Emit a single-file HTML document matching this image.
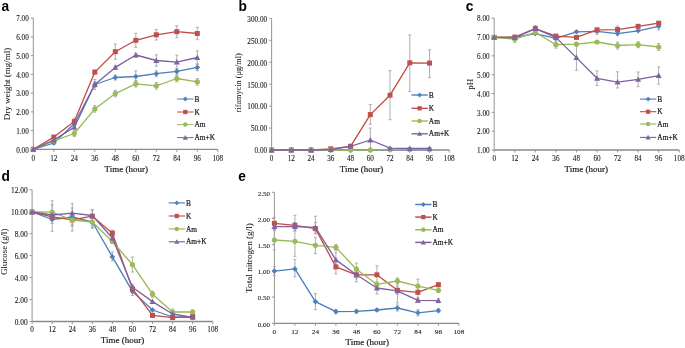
<!DOCTYPE html>
<html><head><meta charset="utf-8"><style>
html,body{margin:0;padding:0;background:#fff;}
body{width:685px;height:348px;overflow:hidden;font-family:"Liberation Serif",serif;}
svg{display:block;filter:blur(0.3px);}
</style></head><body>
<svg width="685" height="348" viewBox="0 0 685 348">
<rect width="685" height="348" fill="#fff"/>
<text transform="translate(1.5 10.6) scale(0.93 1)" font-size="14.8" font-weight="bold" font-family="Liberation Sans" fill="#000">a</text>
<path d="M33.3 18.1V149.4" stroke="#959595" stroke-width="1" fill="none"/>
<path d="M33.3 149.4H217.8" stroke="#8a8a8a" stroke-width="1.3" fill="none"/>
<path d="M30.8 149.4H33.3" stroke="#959595" stroke-width="1"/>
<text transform="translate(28.8 152.7) scale(1 1)" font-size="7.2" text-anchor="end" font-weight="normal" font-family="Liberation Serif" fill="#1a1a1a" stroke="#222" stroke-width="0.1">0.00</text>
<path d="M30.8 130.64H33.3" stroke="#959595" stroke-width="1"/>
<text transform="translate(28.8 133.94) scale(1 1)" font-size="7.2" text-anchor="end" font-weight="normal" font-family="Liberation Serif" fill="#1a1a1a" stroke="#222" stroke-width="0.1">1.00</text>
<path d="M30.8 111.89H33.3" stroke="#959595" stroke-width="1"/>
<text transform="translate(28.8 115.19) scale(1 1)" font-size="7.2" text-anchor="end" font-weight="normal" font-family="Liberation Serif" fill="#1a1a1a" stroke="#222" stroke-width="0.1">2.00</text>
<path d="M30.8 93.13H33.3" stroke="#959595" stroke-width="1"/>
<text transform="translate(28.8 96.43) scale(1 1)" font-size="7.2" text-anchor="end" font-weight="normal" font-family="Liberation Serif" fill="#1a1a1a" stroke="#222" stroke-width="0.1">3.00</text>
<path d="M30.8 74.37H33.3" stroke="#959595" stroke-width="1"/>
<text transform="translate(28.8 77.67) scale(1 1)" font-size="7.2" text-anchor="end" font-weight="normal" font-family="Liberation Serif" fill="#1a1a1a" stroke="#222" stroke-width="0.1">4.00</text>
<path d="M30.8 55.61H33.3" stroke="#959595" stroke-width="1"/>
<text transform="translate(28.8 58.91) scale(1 1)" font-size="7.2" text-anchor="end" font-weight="normal" font-family="Liberation Serif" fill="#1a1a1a" stroke="#222" stroke-width="0.1">5.00</text>
<path d="M30.8 36.86H33.3" stroke="#959595" stroke-width="1"/>
<text transform="translate(28.8 40.16) scale(1 1)" font-size="7.2" text-anchor="end" font-weight="normal" font-family="Liberation Serif" fill="#1a1a1a" stroke="#222" stroke-width="0.1">6.00</text>
<path d="M30.8 18.1H33.3" stroke="#959595" stroke-width="1"/>
<text transform="translate(28.8 21.4) scale(1 1)" font-size="7.2" text-anchor="end" font-weight="normal" font-family="Liberation Serif" fill="#1a1a1a" stroke="#222" stroke-width="0.1">7.00</text>
<path d="M33.3 149.4V151.9" stroke="#959595" stroke-width="1"/>
<text transform="translate(33.3 160.7) scale(1 1)" font-size="7.2" text-anchor="middle" font-weight="normal" font-family="Liberation Serif" fill="#1a1a1a" stroke="#222" stroke-width="0.1">0</text>
<path d="M53.8 149.4V151.9" stroke="#959595" stroke-width="1"/>
<text transform="translate(53.8 160.7) scale(1 1)" font-size="7.2" text-anchor="middle" font-weight="normal" font-family="Liberation Serif" fill="#1a1a1a" stroke="#222" stroke-width="0.1">12</text>
<path d="M74.3 149.4V151.9" stroke="#959595" stroke-width="1"/>
<text transform="translate(74.3 160.7) scale(1 1)" font-size="7.2" text-anchor="middle" font-weight="normal" font-family="Liberation Serif" fill="#1a1a1a" stroke="#222" stroke-width="0.1">24</text>
<path d="M94.8 149.4V151.9" stroke="#959595" stroke-width="1"/>
<text transform="translate(94.8 160.7) scale(1 1)" font-size="7.2" text-anchor="middle" font-weight="normal" font-family="Liberation Serif" fill="#1a1a1a" stroke="#222" stroke-width="0.1">36</text>
<path d="M115.3 149.4V151.9" stroke="#959595" stroke-width="1"/>
<text transform="translate(115.3 160.7) scale(1 1)" font-size="7.2" text-anchor="middle" font-weight="normal" font-family="Liberation Serif" fill="#1a1a1a" stroke="#222" stroke-width="0.1">48</text>
<path d="M135.8 149.4V151.9" stroke="#959595" stroke-width="1"/>
<text transform="translate(135.8 160.7) scale(1 1)" font-size="7.2" text-anchor="middle" font-weight="normal" font-family="Liberation Serif" fill="#1a1a1a" stroke="#222" stroke-width="0.1">60</text>
<path d="M156.3 149.4V151.9" stroke="#959595" stroke-width="1"/>
<text transform="translate(156.3 160.7) scale(1 1)" font-size="7.2" text-anchor="middle" font-weight="normal" font-family="Liberation Serif" fill="#1a1a1a" stroke="#222" stroke-width="0.1">72</text>
<path d="M176.8 149.4V151.9" stroke="#959595" stroke-width="1"/>
<text transform="translate(176.8 160.7) scale(1 1)" font-size="7.2" text-anchor="middle" font-weight="normal" font-family="Liberation Serif" fill="#1a1a1a" stroke="#222" stroke-width="0.1">84</text>
<path d="M197.3 149.4V151.9" stroke="#959595" stroke-width="1"/>
<text transform="translate(197.3 160.7) scale(1 1)" font-size="7.2" text-anchor="middle" font-weight="normal" font-family="Liberation Serif" fill="#1a1a1a" stroke="#222" stroke-width="0.1">96</text>
<path d="M217.8 149.4V151.9" stroke="#959595" stroke-width="1"/>
<text transform="translate(217.8 160.7) scale(1 1)" font-size="7.2" text-anchor="middle" font-weight="normal" font-family="Liberation Serif" fill="#1a1a1a" stroke="#222" stroke-width="0.1">108</text>
<text x="126.3" y="172.3" font-size="9" text-anchor="middle" font-weight="normal" font-family="Liberation Serif" fill="#1a1a1a" stroke="#1a1a1a" stroke-width="0.2">Time (hour)</text>
<text x="9.8" y="83.9" font-size="9" text-anchor="middle" font-weight="normal" font-family="Liberation Serif" fill="#1a1a1a" transform="rotate(-90 9.8 83.9)" stroke="#1a1a1a" stroke-width="0.05">Dry weight (mg/ml)</text>
<path d="M53.8 141.5V144.5 M52.3 141.5H55.3 M52.3 144.5H55.3" stroke="#a6a6a6" stroke-width="0.9" fill="none"/>
<path d="M74.3 121.8V125.8 M72.8 121.8H75.8 M72.8 125.8H75.8" stroke="#a6a6a6" stroke-width="0.9" fill="none"/>
<path d="M94.8 79.5V89.5 M93.3 79.5H96.3 M93.3 89.5H96.3" stroke="#a6a6a6" stroke-width="0.9" fill="none"/>
<path d="M115.3 75V80 M113.8 75H116.8 M113.8 80H116.8" stroke="#a6a6a6" stroke-width="0.9" fill="none"/>
<path d="M135.8 70.8V82.2 M134.3 70.8H137.3 M134.3 82.2H137.3" stroke="#a6a6a6" stroke-width="0.9" fill="none"/>
<path d="M156.3 70.7V76.7 M154.8 70.7H157.8 M154.8 76.7H157.8" stroke="#a6a6a6" stroke-width="0.9" fill="none"/>
<path d="M176.8 68.4V74.4 M175.3 68.4H178.3 M175.3 74.4H178.3" stroke="#a6a6a6" stroke-width="0.9" fill="none"/>
<path d="M197.3 64.1V70.7 M195.8 64.1H198.8 M195.8 70.7H198.8" stroke="#a6a6a6" stroke-width="0.9" fill="none"/>
<path d="M115.3 44.1V59.3 M113.8 44.1H116.8 M113.8 59.3H116.8" stroke="#a6a6a6" stroke-width="0.9" fill="none"/>
<path d="M135.8 33.3V47.3 M134.3 33.3H137.3 M134.3 47.3H137.3" stroke="#a6a6a6" stroke-width="0.9" fill="none"/>
<path d="M156.3 29.6V40 M154.8 29.6H157.8 M154.8 40H157.8" stroke="#a6a6a6" stroke-width="0.9" fill="none"/>
<path d="M176.8 25.7V37.7 M175.3 25.7H178.3 M175.3 37.7H178.3" stroke="#a6a6a6" stroke-width="0.9" fill="none"/>
<path d="M197.3 27.3V39.7 M195.8 27.3H198.8 M195.8 39.7H198.8" stroke="#a6a6a6" stroke-width="0.9" fill="none"/>
<path d="M74.3 118.1V125.1 M72.8 118.1H75.8 M72.8 125.1H75.8" stroke="#a6a6a6" stroke-width="0.9" fill="none"/>
<path d="M53.8 135.6V138.6 M52.3 135.6H55.3 M52.3 138.6H55.3" stroke="#a6a6a6" stroke-width="0.9" fill="none"/>
<path d="M94.8 70.1V74.1 M93.3 70.1H96.3 M93.3 74.1H96.3" stroke="#a6a6a6" stroke-width="0.9" fill="none"/>
<path d="M53.8 138.3V143.3 M52.3 138.3H55.3 M52.3 143.3H55.3" stroke="#a6a6a6" stroke-width="0.9" fill="none"/>
<path d="M74.3 130.5V136.5 M72.8 130.5H75.8 M72.8 136.5H75.8" stroke="#a6a6a6" stroke-width="0.9" fill="none"/>
<path d="M94.8 105.6V112.2 M93.3 105.6H96.3 M93.3 112.2H96.3" stroke="#a6a6a6" stroke-width="0.9" fill="none"/>
<path d="M115.3 90.4V96.8 M113.8 90.4H116.8 M113.8 96.8H116.8" stroke="#a6a6a6" stroke-width="0.9" fill="none"/>
<path d="M135.8 80.6V87 M134.3 80.6H137.3 M134.3 87H137.3" stroke="#a6a6a6" stroke-width="0.9" fill="none"/>
<path d="M156.3 82.5V89.1 M154.8 82.5H157.8 M154.8 89.1H157.8" stroke="#a6a6a6" stroke-width="0.9" fill="none"/>
<path d="M176.8 75.2V81.8 M175.3 75.2H178.3 M175.3 81.8H178.3" stroke="#a6a6a6" stroke-width="0.9" fill="none"/>
<path d="M197.3 78.5V85.1 M195.8 78.5H198.8 M195.8 85.1H198.8" stroke="#a6a6a6" stroke-width="0.9" fill="none"/>
<path d="M74.3 125.2V129.2 M72.8 125.2H75.8 M72.8 129.2H75.8" stroke="#a6a6a6" stroke-width="0.9" fill="none"/>
<path d="M94.8 81.5V87.5 M93.3 81.5H96.3 M93.3 87.5H96.3" stroke="#a6a6a6" stroke-width="0.9" fill="none"/>
<path d="M115.3 65.4V69.4 M113.8 65.4H116.8 M113.8 69.4H116.8" stroke="#a6a6a6" stroke-width="0.9" fill="none"/>
<path d="M135.8 53V57 M134.3 53H137.3 M134.3 57H137.3" stroke="#a6a6a6" stroke-width="0.9" fill="none"/>
<path d="M156.3 54.8V66.2 M154.8 54.8H157.8 M154.8 66.2H157.8" stroke="#a6a6a6" stroke-width="0.9" fill="none"/>
<path d="M176.8 55.1V69.1 M175.3 55.1H178.3 M175.3 69.1H178.3" stroke="#a6a6a6" stroke-width="0.9" fill="none"/>
<path d="M197.3 50.9V64.1 M195.8 50.9H198.8 M195.8 64.1H198.8" stroke="#a6a6a6" stroke-width="0.9" fill="none"/>
<path d="M33.3 149.3 L53.8 143 L74.3 123.8 L94.8 84.5 L115.3 77.5 L135.8 76.5 L156.3 73.7 L176.8 71.4 L197.3 67.4" stroke="#4a7ebb" stroke-width="1.3" fill="none" stroke-linejoin="round"/>
<path d="M33.3 146.5L36.1 149.3L33.3 152.1L30.5 149.3Z" fill="#4f81bd"/>
<path d="M53.8 140.2L56.6 143L53.8 145.8L51 143Z" fill="#4f81bd"/>
<path d="M74.3 121L77.1 123.8L74.3 126.6L71.5 123.8Z" fill="#4f81bd"/>
<path d="M94.8 81.7L97.6 84.5L94.8 87.3L92 84.5Z" fill="#4f81bd"/>
<path d="M115.3 74.7L118.1 77.5L115.3 80.3L112.5 77.5Z" fill="#4f81bd"/>
<path d="M135.8 73.7L138.6 76.5L135.8 79.3L133 76.5Z" fill="#4f81bd"/>
<path d="M156.3 70.9L159.1 73.7L156.3 76.5L153.5 73.7Z" fill="#4f81bd"/>
<path d="M176.8 68.6L179.6 71.4L176.8 74.2L174 71.4Z" fill="#4f81bd"/>
<path d="M197.3 64.6L200.1 67.4L197.3 70.2L194.5 67.4Z" fill="#4f81bd"/>
<path d="M33.3 149.3 L53.8 137.1 L74.3 121.6 L94.8 72.1 L115.3 51.7 L135.8 40.3 L156.3 34.8 L176.8 31.7 L197.3 33.5" stroke="#be4b48" stroke-width="1.3" fill="none" stroke-linejoin="round"/>
<rect x="30.8" y="146.8" width="5" height="5" fill="#c0504d"/>
<rect x="51.3" y="134.6" width="5" height="5" fill="#c0504d"/>
<rect x="71.8" y="119.1" width="5" height="5" fill="#c0504d"/>
<rect x="92.3" y="69.6" width="5" height="5" fill="#c0504d"/>
<rect x="112.8" y="49.2" width="5" height="5" fill="#c0504d"/>
<rect x="133.3" y="37.8" width="5" height="5" fill="#c0504d"/>
<rect x="153.8" y="32.3" width="5" height="5" fill="#c0504d"/>
<rect x="174.3" y="29.2" width="5" height="5" fill="#c0504d"/>
<rect x="194.8" y="31" width="5" height="5" fill="#c0504d"/>
<path d="M33.3 149.3 L53.8 140.8 L74.3 133.5 L94.8 108.9 L115.3 93.6 L135.8 83.8 L156.3 85.8 L176.8 78.5 L197.3 81.8" stroke="#98b954" stroke-width="1.3" fill="none" stroke-linejoin="round"/>
<circle cx="33.3" cy="149.3" r="2.62" fill="#9bbb59"/>
<circle cx="53.8" cy="140.8" r="2.62" fill="#9bbb59"/>
<circle cx="74.3" cy="133.5" r="2.62" fill="#9bbb59"/>
<circle cx="94.8" cy="108.9" r="2.62" fill="#9bbb59"/>
<circle cx="115.3" cy="93.6" r="2.62" fill="#9bbb59"/>
<circle cx="135.8" cy="83.8" r="2.62" fill="#9bbb59"/>
<circle cx="156.3" cy="85.8" r="2.62" fill="#9bbb59"/>
<circle cx="176.8" cy="78.5" r="2.62" fill="#9bbb59"/>
<circle cx="197.3" cy="81.8" r="2.62" fill="#9bbb59"/>
<path d="M33.3 149.3 L53.8 140 L74.3 127.2 L94.8 84.5 L115.3 67.4 L135.8 55 L156.3 60.5 L176.8 62.1 L197.3 57.5" stroke="#7d60a0" stroke-width="1.3" fill="none" stroke-linejoin="round"/>
<path d="M33.3 146.3L36.3 151.7L30.3 151.7Z" fill="#8064a2"/>
<path d="M53.8 137L56.8 142.4L50.8 142.4Z" fill="#8064a2"/>
<path d="M74.3 124.2L77.3 129.6L71.3 129.6Z" fill="#8064a2"/>
<path d="M94.8 81.5L97.8 86.9L91.8 86.9Z" fill="#8064a2"/>
<path d="M115.3 64.4L118.3 69.8L112.3 69.8Z" fill="#8064a2"/>
<path d="M135.8 52L138.8 57.4L132.8 57.4Z" fill="#8064a2"/>
<path d="M156.3 57.5L159.3 62.9L153.3 62.9Z" fill="#8064a2"/>
<path d="M176.8 59.1L179.8 64.5L173.8 64.5Z" fill="#8064a2"/>
<path d="M197.3 54.5L200.3 59.9L194.3 59.9Z" fill="#8064a2"/>
<path d="M177.2 99H193.5" stroke="#4a7ebb" stroke-width="1.0"/>
<path d="M185.3 96.62L187.68 99L185.3 101.38L182.92 99Z" fill="#4f81bd"/>
<text x="194.5" y="101.6" font-size="7.4" text-anchor="start" font-weight="normal" font-family="Liberation Serif" fill="#1a1a1a" stroke="#1a1a1a" stroke-width="0.2">B</text>
<path d="M177.2 112H193.5" stroke="#be4b48" stroke-width="1.0"/>
<rect x="183.17" y="109.88" width="4.25" height="4.25" fill="#c0504d"/>
<text x="194.5" y="114.6" font-size="7.4" text-anchor="start" font-weight="normal" font-family="Liberation Serif" fill="#1a1a1a" stroke="#1a1a1a" stroke-width="0.2">K</text>
<path d="M177.2 124.6H193.5" stroke="#98b954" stroke-width="1.0"/>
<circle cx="185.3" cy="124.6" r="2.23" fill="#9bbb59"/>
<text x="194.5" y="127.2" font-size="7.4" text-anchor="start" font-weight="normal" font-family="Liberation Serif" fill="#1a1a1a" stroke="#1a1a1a" stroke-width="0.2">Am</text>
<path d="M177.2 137.6H193.5" stroke="#7d60a0" stroke-width="1.0"/>
<path d="M185.3 135.05L187.85 139.64L182.75 139.64Z" fill="#8064a2"/>
<text x="194.5" y="140.2" font-size="7.4" text-anchor="start" font-weight="normal" font-family="Liberation Serif" fill="#1a1a1a" stroke="#1a1a1a" stroke-width="0.2">Am+K</text>
<text transform="translate(238.6 10.6) scale(0.93 1)" font-size="14.8" font-weight="bold" font-family="Liberation Sans" fill="#000">b</text>
<path d="M271.6 18.4V150" stroke="#959595" stroke-width="1" fill="none"/>
<path d="M271.6 150H449.26" stroke="#8a8a8a" stroke-width="1.3" fill="none"/>
<path d="M269.1 150H271.6" stroke="#959595" stroke-width="1"/>
<text transform="translate(267.1 153.3) scale(1 1)" font-size="7.2" text-anchor="end" font-weight="normal" font-family="Liberation Serif" fill="#1a1a1a" stroke="#222" stroke-width="0.1">0.00</text>
<path d="M269.1 128.07H271.6" stroke="#959595" stroke-width="1"/>
<text transform="translate(267.1 131.37) scale(1 1)" font-size="7.2" text-anchor="end" font-weight="normal" font-family="Liberation Serif" fill="#1a1a1a" stroke="#222" stroke-width="0.1">50.00</text>
<path d="M269.1 106.13H271.6" stroke="#959595" stroke-width="1"/>
<text transform="translate(267.1 109.43) scale(1 1)" font-size="7.2" text-anchor="end" font-weight="normal" font-family="Liberation Serif" fill="#1a1a1a" stroke="#222" stroke-width="0.1">100.00</text>
<path d="M269.1 84.2H271.6" stroke="#959595" stroke-width="1"/>
<text transform="translate(267.1 87.5) scale(1 1)" font-size="7.2" text-anchor="end" font-weight="normal" font-family="Liberation Serif" fill="#1a1a1a" stroke="#222" stroke-width="0.1">150.00</text>
<path d="M269.1 62.27H271.6" stroke="#959595" stroke-width="1"/>
<text transform="translate(267.1 65.57) scale(1 1)" font-size="7.2" text-anchor="end" font-weight="normal" font-family="Liberation Serif" fill="#1a1a1a" stroke="#222" stroke-width="0.1">200.00</text>
<path d="M269.1 40.33H271.6" stroke="#959595" stroke-width="1"/>
<text transform="translate(267.1 43.63) scale(1 1)" font-size="7.2" text-anchor="end" font-weight="normal" font-family="Liberation Serif" fill="#1a1a1a" stroke="#222" stroke-width="0.1">250.00</text>
<path d="M269.1 18.4H271.6" stroke="#959595" stroke-width="1"/>
<text transform="translate(267.1 21.7) scale(1 1)" font-size="7.2" text-anchor="end" font-weight="normal" font-family="Liberation Serif" fill="#1a1a1a" stroke="#222" stroke-width="0.1">300.00</text>
<path d="M271.6 150V152.5" stroke="#959595" stroke-width="1"/>
<text transform="translate(271.6 160.9) scale(1 1)" font-size="7.2" text-anchor="middle" font-weight="normal" font-family="Liberation Serif" fill="#1a1a1a" stroke="#222" stroke-width="0.1">0</text>
<path d="M291.34 150V152.5" stroke="#959595" stroke-width="1"/>
<text transform="translate(291.34 160.9) scale(1 1)" font-size="7.2" text-anchor="middle" font-weight="normal" font-family="Liberation Serif" fill="#1a1a1a" stroke="#222" stroke-width="0.1">12</text>
<path d="M311.08 150V152.5" stroke="#959595" stroke-width="1"/>
<text transform="translate(311.08 160.9) scale(1 1)" font-size="7.2" text-anchor="middle" font-weight="normal" font-family="Liberation Serif" fill="#1a1a1a" stroke="#222" stroke-width="0.1">24</text>
<path d="M330.82 150V152.5" stroke="#959595" stroke-width="1"/>
<text transform="translate(330.82 160.9) scale(1 1)" font-size="7.2" text-anchor="middle" font-weight="normal" font-family="Liberation Serif" fill="#1a1a1a" stroke="#222" stroke-width="0.1">36</text>
<path d="M350.56 150V152.5" stroke="#959595" stroke-width="1"/>
<text transform="translate(350.56 160.9) scale(1 1)" font-size="7.2" text-anchor="middle" font-weight="normal" font-family="Liberation Serif" fill="#1a1a1a" stroke="#222" stroke-width="0.1">48</text>
<path d="M370.3 150V152.5" stroke="#959595" stroke-width="1"/>
<text transform="translate(370.3 160.9) scale(1 1)" font-size="7.2" text-anchor="middle" font-weight="normal" font-family="Liberation Serif" fill="#1a1a1a" stroke="#222" stroke-width="0.1">60</text>
<path d="M390.04 150V152.5" stroke="#959595" stroke-width="1"/>
<text transform="translate(390.04 160.9) scale(1 1)" font-size="7.2" text-anchor="middle" font-weight="normal" font-family="Liberation Serif" fill="#1a1a1a" stroke="#222" stroke-width="0.1">72</text>
<path d="M409.78 150V152.5" stroke="#959595" stroke-width="1"/>
<text transform="translate(409.78 160.9) scale(1 1)" font-size="7.2" text-anchor="middle" font-weight="normal" font-family="Liberation Serif" fill="#1a1a1a" stroke="#222" stroke-width="0.1">84</text>
<path d="M429.52 150V152.5" stroke="#959595" stroke-width="1"/>
<text transform="translate(429.52 160.9) scale(1 1)" font-size="7.2" text-anchor="middle" font-weight="normal" font-family="Liberation Serif" fill="#1a1a1a" stroke="#222" stroke-width="0.1">96</text>
<path d="M449.26 150V152.5" stroke="#959595" stroke-width="1"/>
<text transform="translate(449.26 160.9) scale(1 1)" font-size="7.2" text-anchor="middle" font-weight="normal" font-family="Liberation Serif" fill="#1a1a1a" stroke="#222" stroke-width="0.1">108</text>
<text x="361.5" y="172.3" font-size="9" text-anchor="middle" font-weight="normal" font-family="Liberation Serif" fill="#1a1a1a" stroke="#1a1a1a" stroke-width="0.2">Time (hour)</text>
<text x="241.3" y="82.8" font-size="8.25" text-anchor="middle" font-weight="normal" font-family="Liberation Serif" fill="#1a1a1a" transform="rotate(-90 241.3 82.8)" stroke="#1a1a1a" stroke-width="0.05">rifamycin (μg/ml)</text>
<path d="M370.3 104.5V124.2 M368.8 104.5H371.8 M368.8 124.2H371.8" stroke="#a6a6a6" stroke-width="0.9" fill="none"/>
<path d="M390.04 70.7V119.7 M388.54 70.7H391.54 M388.54 119.7H391.54" stroke="#a6a6a6" stroke-width="0.9" fill="none"/>
<path d="M409.78 35V91.4 M408.28 35H411.28 M408.28 91.4H411.28" stroke="#a6a6a6" stroke-width="0.9" fill="none"/>
<path d="M429.52 49.7V77.7 M428.02 49.7H431.02 M428.02 77.7H431.02" stroke="#a6a6a6" stroke-width="0.9" fill="none"/>
<path d="M370.3 128.1V150 M368.8 128.1H371.8 M368.8 150H371.8" stroke="#a6a6a6" stroke-width="0.9" fill="none"/>
<path d="M271.6 150 L291.34 150 L311.08 150 L330.82 150 L350.56 150 L370.3 150 L390.04 149.6 L409.78 149.6 L429.52 149.6" stroke="#4a7ebb" stroke-width="1.3" fill="none" stroke-linejoin="round"/>
<path d="M271.6 147.2L274.4 150L271.6 152.8L268.8 150Z" fill="#4f81bd"/>
<path d="M291.34 147.2L294.14 150L291.34 152.8L288.54 150Z" fill="#4f81bd"/>
<path d="M311.08 147.2L313.88 150L311.08 152.8L308.28 150Z" fill="#4f81bd"/>
<path d="M330.82 147.2L333.62 150L330.82 152.8L328.02 150Z" fill="#4f81bd"/>
<path d="M350.56 147.2L353.36 150L350.56 152.8L347.76 150Z" fill="#4f81bd"/>
<path d="M370.3 147.2L373.1 150L370.3 152.8L367.5 150Z" fill="#4f81bd"/>
<path d="M390.04 146.8L392.84 149.6L390.04 152.4L387.24 149.6Z" fill="#4f81bd"/>
<path d="M409.78 146.8L412.58 149.6L409.78 152.4L406.98 149.6Z" fill="#4f81bd"/>
<path d="M429.52 146.8L432.32 149.6L429.52 152.4L426.72 149.6Z" fill="#4f81bd"/>
<path d="M271.6 150 L291.34 150 L311.08 150 L330.82 148.8 L350.56 146.3 L370.3 114.6 L390.04 95.2 L409.78 62.8 L429.52 63.1" stroke="#be4b48" stroke-width="1.3" fill="none" stroke-linejoin="round"/>
<rect x="269.1" y="147.5" width="5" height="5" fill="#c0504d"/>
<rect x="288.84" y="147.5" width="5" height="5" fill="#c0504d"/>
<rect x="308.58" y="147.5" width="5" height="5" fill="#c0504d"/>
<rect x="328.32" y="146.3" width="5" height="5" fill="#c0504d"/>
<rect x="348.06" y="143.8" width="5" height="5" fill="#c0504d"/>
<rect x="367.8" y="112.1" width="5" height="5" fill="#c0504d"/>
<rect x="387.54" y="92.7" width="5" height="5" fill="#c0504d"/>
<rect x="407.28" y="60.3" width="5" height="5" fill="#c0504d"/>
<rect x="427.02" y="60.6" width="5" height="5" fill="#c0504d"/>
<path d="M271.6 150 L291.34 150 L311.08 150 L330.82 150 L350.56 150 L370.3 150 L390.04 149.4 L409.78 149.4 L429.52 149.4" stroke="#98b954" stroke-width="1.3" fill="none" stroke-linejoin="round"/>
<circle cx="271.6" cy="150" r="2.62" fill="#9bbb59"/>
<circle cx="291.34" cy="150" r="2.62" fill="#9bbb59"/>
<circle cx="311.08" cy="150" r="2.62" fill="#9bbb59"/>
<circle cx="330.82" cy="150" r="2.62" fill="#9bbb59"/>
<circle cx="350.56" cy="150" r="2.62" fill="#9bbb59"/>
<circle cx="370.3" cy="150" r="2.62" fill="#9bbb59"/>
<circle cx="390.04" cy="149.4" r="2.62" fill="#9bbb59"/>
<circle cx="409.78" cy="149.4" r="2.62" fill="#9bbb59"/>
<circle cx="429.52" cy="149.4" r="2.62" fill="#9bbb59"/>
<path d="M271.6 150 L291.34 150 L311.08 150 L330.82 149.6 L350.56 146.3 L370.3 140 L390.04 148.2 L409.78 148.5 L429.52 148.5" stroke="#7d60a0" stroke-width="1.3" fill="none" stroke-linejoin="round"/>
<path d="M271.6 147L274.6 152.4L268.6 152.4Z" fill="#8064a2"/>
<path d="M291.34 147L294.34 152.4L288.34 152.4Z" fill="#8064a2"/>
<path d="M311.08 147L314.08 152.4L308.08 152.4Z" fill="#8064a2"/>
<path d="M330.82 146.6L333.82 152L327.82 152Z" fill="#8064a2"/>
<path d="M350.56 143.3L353.56 148.7L347.56 148.7Z" fill="#8064a2"/>
<path d="M370.3 137L373.3 142.4L367.3 142.4Z" fill="#8064a2"/>
<path d="M390.04 145.2L393.04 150.6L387.04 150.6Z" fill="#8064a2"/>
<path d="M409.78 145.5L412.78 150.9L406.78 150.9Z" fill="#8064a2"/>
<path d="M429.52 145.5L432.52 150.9L426.52 150.9Z" fill="#8064a2"/>
<path d="M411.5 95H427.8" stroke="#4a7ebb" stroke-width="1.35"/>
<path d="M419.6 92.62L421.98 95L419.6 97.38L417.22 95Z" fill="#4f81bd"/>
<text x="428.8" y="97.6" font-size="7.4" text-anchor="start" font-weight="normal" font-family="Liberation Serif" fill="#1a1a1a" stroke="#1a1a1a" stroke-width="0.2">B</text>
<path d="M411.5 108.3H427.8" stroke="#be4b48" stroke-width="1.35"/>
<rect x="417.48" y="106.17" width="4.25" height="4.25" fill="#c0504d"/>
<text x="428.8" y="110.9" font-size="7.4" text-anchor="start" font-weight="normal" font-family="Liberation Serif" fill="#1a1a1a" stroke="#1a1a1a" stroke-width="0.2">K</text>
<path d="M411.5 121H427.8" stroke="#98b954" stroke-width="1.35"/>
<circle cx="419.6" cy="121" r="2.23" fill="#9bbb59"/>
<text x="428.8" y="123.6" font-size="7.4" text-anchor="start" font-weight="normal" font-family="Liberation Serif" fill="#1a1a1a" stroke="#1a1a1a" stroke-width="0.2">Am</text>
<path d="M411.5 133.8H427.8" stroke="#7d60a0" stroke-width="1.35"/>
<path d="M419.6 131.25L422.15 135.84L417.05 135.84Z" fill="#8064a2"/>
<text x="428.8" y="136.4" font-size="7.4" text-anchor="start" font-weight="normal" font-family="Liberation Serif" fill="#1a1a1a" stroke="#1a1a1a" stroke-width="0.2">Am+K</text>
<text transform="translate(465.8 10.6) scale(0.93 1)" font-size="14.8" font-weight="bold" font-family="Liberation Sans" fill="#000">c</text>
<path d="M494.2 18.19V150" stroke="#959595" stroke-width="1" fill="none"/>
<path d="M494.2 150H679.24" stroke="#8a8a8a" stroke-width="1.3" fill="none"/>
<path d="M491.7 150H494.2" stroke="#959595" stroke-width="1"/>
<text transform="translate(489.7 153.3) scale(1 1)" font-size="7.2" text-anchor="end" font-weight="normal" font-family="Liberation Serif" fill="#1a1a1a" stroke="#222" stroke-width="0.1">1.00</text>
<path d="M491.7 131.17H494.2" stroke="#959595" stroke-width="1"/>
<text transform="translate(489.7 134.47) scale(1 1)" font-size="7.2" text-anchor="end" font-weight="normal" font-family="Liberation Serif" fill="#1a1a1a" stroke="#222" stroke-width="0.1">2.00</text>
<path d="M491.7 112.34H494.2" stroke="#959595" stroke-width="1"/>
<text transform="translate(489.7 115.64) scale(1 1)" font-size="7.2" text-anchor="end" font-weight="normal" font-family="Liberation Serif" fill="#1a1a1a" stroke="#222" stroke-width="0.1">3.00</text>
<path d="M491.7 93.51H494.2" stroke="#959595" stroke-width="1"/>
<text transform="translate(489.7 96.81) scale(1 1)" font-size="7.2" text-anchor="end" font-weight="normal" font-family="Liberation Serif" fill="#1a1a1a" stroke="#222" stroke-width="0.1">4.00</text>
<path d="M491.7 74.68H494.2" stroke="#959595" stroke-width="1"/>
<text transform="translate(489.7 77.98) scale(1 1)" font-size="7.2" text-anchor="end" font-weight="normal" font-family="Liberation Serif" fill="#1a1a1a" stroke="#222" stroke-width="0.1">5.00</text>
<path d="M491.7 55.85H494.2" stroke="#959595" stroke-width="1"/>
<text transform="translate(489.7 59.15) scale(1 1)" font-size="7.2" text-anchor="end" font-weight="normal" font-family="Liberation Serif" fill="#1a1a1a" stroke="#222" stroke-width="0.1">6.00</text>
<path d="M491.7 37.02H494.2" stroke="#959595" stroke-width="1"/>
<text transform="translate(489.7 40.32) scale(1 1)" font-size="7.2" text-anchor="end" font-weight="normal" font-family="Liberation Serif" fill="#1a1a1a" stroke="#222" stroke-width="0.1">7.00</text>
<path d="M491.7 18.19H494.2" stroke="#959595" stroke-width="1"/>
<text transform="translate(489.7 21.49) scale(1 1)" font-size="7.2" text-anchor="end" font-weight="normal" font-family="Liberation Serif" fill="#1a1a1a" stroke="#222" stroke-width="0.1">8.00</text>
<path d="M494.2 150V152.5" stroke="#959595" stroke-width="1"/>
<text transform="translate(494.2 161.2) scale(1 1)" font-size="7.2" text-anchor="middle" font-weight="normal" font-family="Liberation Serif" fill="#1a1a1a" stroke="#222" stroke-width="0.1">0</text>
<path d="M514.76 150V152.5" stroke="#959595" stroke-width="1"/>
<text transform="translate(514.76 161.2) scale(1 1)" font-size="7.2" text-anchor="middle" font-weight="normal" font-family="Liberation Serif" fill="#1a1a1a" stroke="#222" stroke-width="0.1">12</text>
<path d="M535.32 150V152.5" stroke="#959595" stroke-width="1"/>
<text transform="translate(535.32 161.2) scale(1 1)" font-size="7.2" text-anchor="middle" font-weight="normal" font-family="Liberation Serif" fill="#1a1a1a" stroke="#222" stroke-width="0.1">24</text>
<path d="M555.88 150V152.5" stroke="#959595" stroke-width="1"/>
<text transform="translate(555.88 161.2) scale(1 1)" font-size="7.2" text-anchor="middle" font-weight="normal" font-family="Liberation Serif" fill="#1a1a1a" stroke="#222" stroke-width="0.1">36</text>
<path d="M576.44 150V152.5" stroke="#959595" stroke-width="1"/>
<text transform="translate(576.44 161.2) scale(1 1)" font-size="7.2" text-anchor="middle" font-weight="normal" font-family="Liberation Serif" fill="#1a1a1a" stroke="#222" stroke-width="0.1">48</text>
<path d="M597 150V152.5" stroke="#959595" stroke-width="1"/>
<text transform="translate(597 161.2) scale(1 1)" font-size="7.2" text-anchor="middle" font-weight="normal" font-family="Liberation Serif" fill="#1a1a1a" stroke="#222" stroke-width="0.1">60</text>
<path d="M617.56 150V152.5" stroke="#959595" stroke-width="1"/>
<text transform="translate(617.56 161.2) scale(1 1)" font-size="7.2" text-anchor="middle" font-weight="normal" font-family="Liberation Serif" fill="#1a1a1a" stroke="#222" stroke-width="0.1">72</text>
<path d="M638.12 150V152.5" stroke="#959595" stroke-width="1"/>
<text transform="translate(638.12 161.2) scale(1 1)" font-size="7.2" text-anchor="middle" font-weight="normal" font-family="Liberation Serif" fill="#1a1a1a" stroke="#222" stroke-width="0.1">84</text>
<path d="M658.68 150V152.5" stroke="#959595" stroke-width="1"/>
<text transform="translate(658.68 161.2) scale(1 1)" font-size="7.2" text-anchor="middle" font-weight="normal" font-family="Liberation Serif" fill="#1a1a1a" stroke="#222" stroke-width="0.1">96</text>
<path d="M679.24 150V152.5" stroke="#959595" stroke-width="1"/>
<text transform="translate(679.24 161.2) scale(1 1)" font-size="7.2" text-anchor="middle" font-weight="normal" font-family="Liberation Serif" fill="#1a1a1a" stroke="#222" stroke-width="0.1">108</text>
<text x="586.3" y="172.3" font-size="9" text-anchor="middle" font-weight="normal" font-family="Liberation Serif" fill="#1a1a1a" stroke="#1a1a1a" stroke-width="0.2">Time (hour)</text>
<text x="472.9" y="84.3" font-size="9" text-anchor="middle" font-weight="normal" font-family="Liberation Serif" fill="#1a1a1a" transform="rotate(-90 472.9 84.3)" stroke="#1a1a1a" stroke-width="0.05">pH</text>
<path d="M597 28.3V34.3 M595.5 28.3H598.5 M595.5 34.3H598.5" stroke="#a6a6a6" stroke-width="0.9" fill="none"/>
<path d="M658.68 22.8V29.8 M657.18 22.8H660.18 M657.18 29.8H660.18" stroke="#a6a6a6" stroke-width="0.9" fill="none"/>
<path d="M535.32 25.6V31.6 M533.82 25.6H536.82 M533.82 31.6H536.82" stroke="#a6a6a6" stroke-width="0.9" fill="none"/>
<path d="M617.56 26.1V33.1 M616.06 26.1H619.06 M616.06 33.1H619.06" stroke="#a6a6a6" stroke-width="0.9" fill="none"/>
<path d="M514.76 36V42.4 M513.26 36H516.26 M513.26 42.4H516.26" stroke="#a6a6a6" stroke-width="0.9" fill="none"/>
<path d="M555.88 41.2V48.2 M554.38 41.2H557.38 M554.38 48.2H557.38" stroke="#a6a6a6" stroke-width="0.9" fill="none"/>
<path d="M617.56 42V49 M616.06 42H619.06 M616.06 49H619.06" stroke="#a6a6a6" stroke-width="0.9" fill="none"/>
<path d="M638.12 41.7V47.7 M636.62 41.7H639.62 M636.62 47.7H639.62" stroke="#a6a6a6" stroke-width="0.9" fill="none"/>
<path d="M658.68 43.5V50.5 M657.18 43.5H660.18 M657.18 50.5H660.18" stroke="#a6a6a6" stroke-width="0.9" fill="none"/>
<path d="M576.44 45.5V70.3 M574.94 45.5H577.94 M574.94 70.3H577.94" stroke="#a6a6a6" stroke-width="0.9" fill="none"/>
<path d="M597 70.8V85.4 M595.5 70.8H598.5 M595.5 85.4H598.5" stroke="#a6a6a6" stroke-width="0.9" fill="none"/>
<path d="M617.56 71.8V88 M616.06 71.8H619.06 M616.06 88H619.06" stroke="#a6a6a6" stroke-width="0.9" fill="none"/>
<path d="M638.12 72V86.7 M636.62 72H639.62 M636.62 86.7H639.62" stroke="#a6a6a6" stroke-width="0.9" fill="none"/>
<path d="M658.68 67V84.2 M657.18 67H660.18 M657.18 84.2H660.18" stroke="#a6a6a6" stroke-width="0.9" fill="none"/>
<path d="M555.88 35.4V39.4 M554.38 35.4H557.38 M554.38 39.4H557.38" stroke="#a6a6a6" stroke-width="0.9" fill="none"/>
<path d="M494.2 37.4 L514.76 37.4 L535.32 33.6 L555.88 38.4 L576.44 31.8 L597 31.3 L617.56 33.6 L638.12 30.8 L658.68 26.3" stroke="#4a7ebb" stroke-width="1.3" fill="none" stroke-linejoin="round"/>
<path d="M494.2 34.6L497 37.4L494.2 40.2L491.4 37.4Z" fill="#4f81bd"/>
<path d="M514.76 34.6L517.56 37.4L514.76 40.2L511.96 37.4Z" fill="#4f81bd"/>
<path d="M535.32 30.8L538.12 33.6L535.32 36.4L532.52 33.6Z" fill="#4f81bd"/>
<path d="M555.88 35.6L558.68 38.4L555.88 41.2L553.08 38.4Z" fill="#4f81bd"/>
<path d="M576.44 29L579.24 31.8L576.44 34.6L573.64 31.8Z" fill="#4f81bd"/>
<path d="M597 28.5L599.8 31.3L597 34.1L594.2 31.3Z" fill="#4f81bd"/>
<path d="M617.56 30.8L620.36 33.6L617.56 36.4L614.76 33.6Z" fill="#4f81bd"/>
<path d="M638.12 28L640.92 30.8L638.12 33.6L635.32 30.8Z" fill="#4f81bd"/>
<path d="M658.68 23.5L661.48 26.3L658.68 29.1L655.88 26.3Z" fill="#4f81bd"/>
<path d="M494.2 37.4 L514.76 37.1 L535.32 28.6 L555.88 36.1 L576.44 37.4 L597 29.8 L617.56 29.6 L638.12 26.3 L658.68 23.2" stroke="#be4b48" stroke-width="1.3" fill="none" stroke-linejoin="round"/>
<rect x="491.7" y="34.9" width="5" height="5" fill="#c0504d"/>
<rect x="512.26" y="34.6" width="5" height="5" fill="#c0504d"/>
<rect x="532.82" y="26.1" width="5" height="5" fill="#c0504d"/>
<rect x="553.38" y="33.6" width="5" height="5" fill="#c0504d"/>
<rect x="573.94" y="34.9" width="5" height="5" fill="#c0504d"/>
<rect x="594.5" y="27.3" width="5" height="5" fill="#c0504d"/>
<rect x="615.06" y="27.1" width="5" height="5" fill="#c0504d"/>
<rect x="635.62" y="23.8" width="5" height="5" fill="#c0504d"/>
<rect x="656.18" y="20.7" width="5" height="5" fill="#c0504d"/>
<path d="M494.2 37.4 L514.76 39.2 L535.32 32.3 L555.88 44.7 L576.44 44.2 L597 42 L617.56 45.5 L638.12 44.7 L658.68 47" stroke="#98b954" stroke-width="1.3" fill="none" stroke-linejoin="round"/>
<circle cx="494.2" cy="37.4" r="2.62" fill="#9bbb59"/>
<circle cx="514.76" cy="39.2" r="2.62" fill="#9bbb59"/>
<circle cx="535.32" cy="32.3" r="2.62" fill="#9bbb59"/>
<circle cx="555.88" cy="44.7" r="2.62" fill="#9bbb59"/>
<circle cx="576.44" cy="44.2" r="2.62" fill="#9bbb59"/>
<circle cx="597" cy="42" r="2.62" fill="#9bbb59"/>
<circle cx="617.56" cy="45.5" r="2.62" fill="#9bbb59"/>
<circle cx="638.12" cy="44.7" r="2.62" fill="#9bbb59"/>
<circle cx="658.68" cy="47" r="2.62" fill="#9bbb59"/>
<path d="M494.2 37.4 L514.76 37.6 L535.32 28.6 L555.88 37.4 L576.44 57.6 L597 78.3 L617.56 82.1 L638.12 79.4 L658.68 75.6" stroke="#7d60a0" stroke-width="1.3" fill="none" stroke-linejoin="round"/>
<path d="M494.2 34.4L497.2 39.8L491.2 39.8Z" fill="#8064a2"/>
<path d="M514.76 34.6L517.76 40L511.76 40Z" fill="#8064a2"/>
<path d="M535.32 25.6L538.32 31L532.32 31Z" fill="#8064a2"/>
<path d="M555.88 34.4L558.88 39.8L552.88 39.8Z" fill="#8064a2"/>
<path d="M576.44 54.6L579.44 60L573.44 60Z" fill="#8064a2"/>
<path d="M597 75.3L600 80.7L594 80.7Z" fill="#8064a2"/>
<path d="M617.56 79.1L620.56 84.5L614.56 84.5Z" fill="#8064a2"/>
<path d="M638.12 76.4L641.12 81.8L635.12 81.8Z" fill="#8064a2"/>
<path d="M658.68 72.6L661.68 78L655.68 78Z" fill="#8064a2"/>
<path d="M640 99.1H656.3" stroke="#4a7ebb" stroke-width="1.1"/>
<path d="M648.1 96.72L650.48 99.1L648.1 101.48L645.72 99.1Z" fill="#4f81bd"/>
<text x="657.3" y="101.7" font-size="7.4" text-anchor="start" font-weight="normal" font-family="Liberation Serif" fill="#1a1a1a" stroke="#1a1a1a" stroke-width="0.2">B</text>
<path d="M640 111.7H656.3" stroke="#be4b48" stroke-width="1.1"/>
<rect x="645.98" y="109.58" width="4.25" height="4.25" fill="#c0504d"/>
<text x="657.3" y="114.3" font-size="7.4" text-anchor="start" font-weight="normal" font-family="Liberation Serif" fill="#1a1a1a" stroke="#1a1a1a" stroke-width="0.2">K</text>
<path d="M640 124H656.3" stroke="#98b954" stroke-width="1.1"/>
<circle cx="648.1" cy="124" r="2.23" fill="#9bbb59"/>
<text x="657.3" y="126.6" font-size="7.4" text-anchor="start" font-weight="normal" font-family="Liberation Serif" fill="#1a1a1a" stroke="#1a1a1a" stroke-width="0.2">Am</text>
<path d="M640 137.4H656.3" stroke="#7d60a0" stroke-width="1.1"/>
<path d="M648.1 134.85L650.65 139.44L645.55 139.44Z" fill="#8064a2"/>
<text x="657.3" y="140" font-size="7.4" text-anchor="start" font-weight="normal" font-family="Liberation Serif" fill="#1a1a1a" stroke="#1a1a1a" stroke-width="0.2">Am+K</text>
<text transform="translate(1.6 180.6) scale(0.93 1)" font-size="14.8" font-weight="bold" font-family="Liberation Sans" fill="#000">d</text>
<path d="M32.1 189.74V321.5" stroke="#959595" stroke-width="1" fill="none"/>
<path d="M32.1 321.5H212.73" stroke="#8a8a8a" stroke-width="1.3" fill="none"/>
<path d="M29.6 321.5H32.1" stroke="#959595" stroke-width="1"/>
<text transform="translate(27.6 324.8) scale(1 1)" font-size="7.4" text-anchor="end" font-weight="normal" font-family="Liberation Serif" fill="#1a1a1a" stroke="#222" stroke-width="0.1">0.00</text>
<path d="M29.6 299.54H32.1" stroke="#959595" stroke-width="1"/>
<text transform="translate(27.6 302.84) scale(1 1)" font-size="7.4" text-anchor="end" font-weight="normal" font-family="Liberation Serif" fill="#1a1a1a" stroke="#222" stroke-width="0.1">2.00</text>
<path d="M29.6 277.58H32.1" stroke="#959595" stroke-width="1"/>
<text transform="translate(27.6 280.88) scale(1 1)" font-size="7.4" text-anchor="end" font-weight="normal" font-family="Liberation Serif" fill="#1a1a1a" stroke="#222" stroke-width="0.1">4.00</text>
<path d="M29.6 255.62H32.1" stroke="#959595" stroke-width="1"/>
<text transform="translate(27.6 258.92) scale(1 1)" font-size="7.4" text-anchor="end" font-weight="normal" font-family="Liberation Serif" fill="#1a1a1a" stroke="#222" stroke-width="0.1">6.00</text>
<path d="M29.6 233.66H32.1" stroke="#959595" stroke-width="1"/>
<text transform="translate(27.6 236.96) scale(1 1)" font-size="7.4" text-anchor="end" font-weight="normal" font-family="Liberation Serif" fill="#1a1a1a" stroke="#222" stroke-width="0.1">8.00</text>
<path d="M29.6 211.7H32.1" stroke="#959595" stroke-width="1"/>
<text transform="translate(27.6 215) scale(1 1)" font-size="7.4" text-anchor="end" font-weight="normal" font-family="Liberation Serif" fill="#1a1a1a" stroke="#222" stroke-width="0.1">10.00</text>
<path d="M29.6 189.74H32.1" stroke="#959595" stroke-width="1"/>
<text transform="translate(27.6 193.04) scale(1 1)" font-size="7.4" text-anchor="end" font-weight="normal" font-family="Liberation Serif" fill="#1a1a1a" stroke="#222" stroke-width="0.1">12.00</text>
<path d="M32.1 321.5V324" stroke="#959595" stroke-width="1"/>
<text transform="translate(32.1 332.2) scale(1 1)" font-size="7.2" text-anchor="middle" font-weight="normal" font-family="Liberation Serif" fill="#1a1a1a" stroke="#222" stroke-width="0.1">0</text>
<path d="M52.17 321.5V324" stroke="#959595" stroke-width="1"/>
<text transform="translate(52.17 332.2) scale(1 1)" font-size="7.2" text-anchor="middle" font-weight="normal" font-family="Liberation Serif" fill="#1a1a1a" stroke="#222" stroke-width="0.1">12</text>
<path d="M72.24 321.5V324" stroke="#959595" stroke-width="1"/>
<text transform="translate(72.24 332.2) scale(1 1)" font-size="7.2" text-anchor="middle" font-weight="normal" font-family="Liberation Serif" fill="#1a1a1a" stroke="#222" stroke-width="0.1">24</text>
<path d="M92.31 321.5V324" stroke="#959595" stroke-width="1"/>
<text transform="translate(92.31 332.2) scale(1 1)" font-size="7.2" text-anchor="middle" font-weight="normal" font-family="Liberation Serif" fill="#1a1a1a" stroke="#222" stroke-width="0.1">36</text>
<path d="M112.38 321.5V324" stroke="#959595" stroke-width="1"/>
<text transform="translate(112.38 332.2) scale(1 1)" font-size="7.2" text-anchor="middle" font-weight="normal" font-family="Liberation Serif" fill="#1a1a1a" stroke="#222" stroke-width="0.1">48</text>
<path d="M132.45 321.5V324" stroke="#959595" stroke-width="1"/>
<text transform="translate(132.45 332.2) scale(1 1)" font-size="7.2" text-anchor="middle" font-weight="normal" font-family="Liberation Serif" fill="#1a1a1a" stroke="#222" stroke-width="0.1">60</text>
<path d="M152.52 321.5V324" stroke="#959595" stroke-width="1"/>
<text transform="translate(152.52 332.2) scale(1 1)" font-size="7.2" text-anchor="middle" font-weight="normal" font-family="Liberation Serif" fill="#1a1a1a" stroke="#222" stroke-width="0.1">72</text>
<path d="M172.59 321.5V324" stroke="#959595" stroke-width="1"/>
<text transform="translate(172.59 332.2) scale(1 1)" font-size="7.2" text-anchor="middle" font-weight="normal" font-family="Liberation Serif" fill="#1a1a1a" stroke="#222" stroke-width="0.1">84</text>
<path d="M192.66 321.5V324" stroke="#959595" stroke-width="1"/>
<text transform="translate(192.66 332.2) scale(1 1)" font-size="7.2" text-anchor="middle" font-weight="normal" font-family="Liberation Serif" fill="#1a1a1a" stroke="#222" stroke-width="0.1">96</text>
<path d="M212.73 321.5V324" stroke="#959595" stroke-width="1"/>
<text transform="translate(212.73 332.2) scale(1 1)" font-size="7.2" text-anchor="middle" font-weight="normal" font-family="Liberation Serif" fill="#1a1a1a" stroke="#222" stroke-width="0.1">108</text>
<text x="122.5" y="343.4" font-size="9" text-anchor="middle" font-weight="normal" font-family="Liberation Serif" fill="#1a1a1a" stroke="#1a1a1a" stroke-width="0.2">Time (hour)</text>
<text x="7.4" y="251.7" font-size="8.8" text-anchor="middle" font-weight="normal" font-family="Liberation Serif" fill="#1a1a1a" transform="rotate(-90 7.4 251.7)" stroke="#1a1a1a" stroke-width="0.05">Glucose (g/l)</text>
<path d="M52.17 204.7V231.3 M50.67 204.7H53.67 M50.67 231.3H53.67" stroke="#a6a6a6" stroke-width="0.9" fill="none"/>
<path d="M72.24 208V231 M70.74 208H73.74 M70.74 231H73.74" stroke="#a6a6a6" stroke-width="0.9" fill="none"/>
<path d="M92.31 216V228 M90.81 216H93.81 M90.81 228H93.81" stroke="#a6a6a6" stroke-width="0.9" fill="none"/>
<path d="M112.38 251.9V260.9 M110.88 251.9H113.88 M110.88 260.9H113.88" stroke="#a6a6a6" stroke-width="0.9" fill="none"/>
<path d="M132.45 287.4V295.4 M130.95 287.4H133.95 M130.95 295.4H133.95" stroke="#a6a6a6" stroke-width="0.9" fill="none"/>
<path d="M112.38 230.2V236.2 M110.88 230.2H113.88 M110.88 236.2H113.88" stroke="#a6a6a6" stroke-width="0.9" fill="none"/>
<path d="M132.45 285.9V291.9 M130.95 285.9H133.95 M130.95 291.9H133.95" stroke="#a6a6a6" stroke-width="0.9" fill="none"/>
<path d="M152.52 313.4V317.4 M151.02 313.4H154.02 M151.02 317.4H154.02" stroke="#a6a6a6" stroke-width="0.9" fill="none"/>
<path d="M52.17 200.8V223.5 M50.67 200.8H53.67 M50.67 223.5H53.67" stroke="#a6a6a6" stroke-width="0.9" fill="none"/>
<path d="M72.24 214V226 M70.74 214H73.74 M70.74 226H73.74" stroke="#a6a6a6" stroke-width="0.9" fill="none"/>
<path d="M92.31 210.6V228 M90.81 210.6H93.81 M90.81 228H93.81" stroke="#a6a6a6" stroke-width="0.9" fill="none"/>
<path d="M132.45 257V272 M130.95 257H133.95 M130.95 272H133.95" stroke="#a6a6a6" stroke-width="0.9" fill="none"/>
<path d="M152.52 291.2V297.2 M151.02 291.2H154.02 M151.02 297.2H154.02" stroke="#a6a6a6" stroke-width="0.9" fill="none"/>
<path d="M172.59 309V315 M171.09 309H174.09 M171.09 315H174.09" stroke="#a6a6a6" stroke-width="0.9" fill="none"/>
<path d="M192.66 310V314 M191.16 310H194.16 M191.16 314H194.16" stroke="#a6a6a6" stroke-width="0.9" fill="none"/>
<path d="M72.24 203.4V225.2 M70.74 203.4H73.74 M70.74 225.2H73.74" stroke="#a6a6a6" stroke-width="0.9" fill="none"/>
<path d="M92.31 209.4V226 M90.81 209.4H93.81 M90.81 226H93.81" stroke="#a6a6a6" stroke-width="0.9" fill="none"/>
<path d="M132.45 284.2V290.2 M130.95 284.2H133.95 M130.95 290.2H133.95" stroke="#a6a6a6" stroke-width="0.9" fill="none"/>
<path d="M32.1 212 L52.17 219.5 L72.24 217 L92.31 222 L112.38 256.9 L132.45 291.4 L152.52 310 L172.59 317 L192.66 317.4" stroke="#4a7ebb" stroke-width="1.3" fill="none" stroke-linejoin="round"/>
<path d="M32.1 209.2L34.9 212L32.1 214.8L29.3 212Z" fill="#4f81bd"/>
<path d="M52.17 216.7L54.97 219.5L52.17 222.3L49.37 219.5Z" fill="#4f81bd"/>
<path d="M72.24 214.2L75.04 217L72.24 219.8L69.44 217Z" fill="#4f81bd"/>
<path d="M92.31 219.2L95.11 222L92.31 224.8L89.51 222Z" fill="#4f81bd"/>
<path d="M112.38 254.1L115.18 256.9L112.38 259.7L109.58 256.9Z" fill="#4f81bd"/>
<path d="M132.45 288.6L135.25 291.4L132.45 294.2L129.65 291.4Z" fill="#4f81bd"/>
<path d="M152.52 307.2L155.32 310L152.52 312.8L149.72 310Z" fill="#4f81bd"/>
<path d="M172.59 314.2L175.39 317L172.59 319.8L169.79 317Z" fill="#4f81bd"/>
<path d="M192.66 314.6L195.46 317.4L192.66 320.2L189.86 317.4Z" fill="#4f81bd"/>
<path d="M32.1 212 L52.17 216.8 L72.24 219.8 L92.31 216.2 L112.38 233.2 L132.45 288.9 L152.52 315.4 L172.59 317.6 L192.66 316.5" stroke="#be4b48" stroke-width="1.3" fill="none" stroke-linejoin="round"/>
<rect x="29.6" y="209.5" width="5" height="5" fill="#c0504d"/>
<rect x="49.67" y="214.3" width="5" height="5" fill="#c0504d"/>
<rect x="69.74" y="217.3" width="5" height="5" fill="#c0504d"/>
<rect x="89.81" y="213.7" width="5" height="5" fill="#c0504d"/>
<rect x="109.88" y="230.7" width="5" height="5" fill="#c0504d"/>
<rect x="129.95" y="286.4" width="5" height="5" fill="#c0504d"/>
<rect x="150.02" y="312.9" width="5" height="5" fill="#c0504d"/>
<rect x="170.09" y="315.1" width="5" height="5" fill="#c0504d"/>
<rect x="190.16" y="314" width="5" height="5" fill="#c0504d"/>
<path d="M32.1 212 L52.17 212.2 L72.24 220 L92.31 222 L112.38 241.5 L132.45 264.7 L152.52 294.2 L172.59 312 L192.66 312" stroke="#98b954" stroke-width="1.3" fill="none" stroke-linejoin="round"/>
<circle cx="32.1" cy="212" r="2.62" fill="#9bbb59"/>
<circle cx="52.17" cy="212.2" r="2.62" fill="#9bbb59"/>
<circle cx="72.24" cy="220" r="2.62" fill="#9bbb59"/>
<circle cx="92.31" cy="222" r="2.62" fill="#9bbb59"/>
<circle cx="112.38" cy="241.5" r="2.62" fill="#9bbb59"/>
<circle cx="132.45" cy="264.7" r="2.62" fill="#9bbb59"/>
<circle cx="152.52" cy="294.2" r="2.62" fill="#9bbb59"/>
<circle cx="172.59" cy="312" r="2.62" fill="#9bbb59"/>
<circle cx="192.66" cy="312" r="2.62" fill="#9bbb59"/>
<path d="M32.1 212 L52.17 215 L72.24 213.2 L92.31 215.5 L112.38 238 L132.45 287.2 L152.52 301.6 L172.59 314 L192.66 317.4" stroke="#7d60a0" stroke-width="1.3" fill="none" stroke-linejoin="round"/>
<path d="M32.1 209L35.1 214.4L29.1 214.4Z" fill="#8064a2"/>
<path d="M52.17 212L55.17 217.4L49.17 217.4Z" fill="#8064a2"/>
<path d="M72.24 210.2L75.24 215.6L69.24 215.6Z" fill="#8064a2"/>
<path d="M92.31 212.5L95.31 217.9L89.31 217.9Z" fill="#8064a2"/>
<path d="M112.38 235L115.38 240.4L109.38 240.4Z" fill="#8064a2"/>
<path d="M132.45 284.2L135.45 289.6L129.45 289.6Z" fill="#8064a2"/>
<path d="M152.52 298.6L155.52 304L149.52 304Z" fill="#8064a2"/>
<path d="M172.59 311L175.59 316.4L169.59 316.4Z" fill="#8064a2"/>
<path d="M192.66 314.4L195.66 319.8L189.66 319.8Z" fill="#8064a2"/>
<path d="M168.7 202.9H185" stroke="#4a7ebb" stroke-width="1.15"/>
<path d="M176.8 200.52L179.18 202.9L176.8 205.28L174.42 202.9Z" fill="#4f81bd"/>
<text x="186" y="205.5" font-size="7.4" text-anchor="start" font-weight="normal" font-family="Liberation Serif" fill="#1a1a1a" stroke="#1a1a1a" stroke-width="0.2">B</text>
<path d="M168.7 216H185" stroke="#be4b48" stroke-width="1.15"/>
<rect x="174.67" y="213.88" width="4.25" height="4.25" fill="#c0504d"/>
<text x="186" y="218.6" font-size="7.4" text-anchor="start" font-weight="normal" font-family="Liberation Serif" fill="#1a1a1a" stroke="#1a1a1a" stroke-width="0.2">K</text>
<path d="M168.7 228.9H185" stroke="#98b954" stroke-width="1.15"/>
<circle cx="176.8" cy="228.9" r="2.23" fill="#9bbb59"/>
<text x="186" y="231.5" font-size="7.4" text-anchor="start" font-weight="normal" font-family="Liberation Serif" fill="#1a1a1a" stroke="#1a1a1a" stroke-width="0.2">Am</text>
<path d="M168.7 241.8H185" stroke="#7d60a0" stroke-width="1.15"/>
<path d="M176.8 239.25L179.35 243.84L174.25 243.84Z" fill="#8064a2"/>
<text x="186" y="244.4" font-size="7.4" text-anchor="start" font-weight="normal" font-family="Liberation Serif" fill="#1a1a1a" stroke="#1a1a1a" stroke-width="0.2">Am+K</text>
<text transform="translate(238.3 180.8) scale(0.93 1)" font-size="14.8" font-weight="bold" font-family="Liberation Sans" fill="#000">e</text>
<path d="M274.4 192.3V323.3" stroke="#959595" stroke-width="1" fill="none"/>
<path d="M274.4 323.3H458.9" stroke="#8a8a8a" stroke-width="1.3" fill="none"/>
<path d="M271.9 323.3H274.4" stroke="#959595" stroke-width="1"/>
<text transform="translate(269.9 326.6) scale(1 1)" font-size="7" text-anchor="end" font-weight="normal" font-family="Liberation Serif" fill="#1a1a1a" stroke="#222" stroke-width="0.1">0.00</text>
<path d="M271.9 297.1H274.4" stroke="#959595" stroke-width="1"/>
<text transform="translate(269.9 300.4) scale(1 1)" font-size="7" text-anchor="end" font-weight="normal" font-family="Liberation Serif" fill="#1a1a1a" stroke="#222" stroke-width="0.1">0.50</text>
<path d="M271.9 270.9H274.4" stroke="#959595" stroke-width="1"/>
<text transform="translate(269.9 274.2) scale(1 1)" font-size="7" text-anchor="end" font-weight="normal" font-family="Liberation Serif" fill="#1a1a1a" stroke="#222" stroke-width="0.1">1.00</text>
<path d="M271.9 244.7H274.4" stroke="#959595" stroke-width="1"/>
<text transform="translate(269.9 248) scale(1 1)" font-size="7" text-anchor="end" font-weight="normal" font-family="Liberation Serif" fill="#1a1a1a" stroke="#222" stroke-width="0.1">1.50</text>
<path d="M271.9 218.5H274.4" stroke="#959595" stroke-width="1"/>
<text transform="translate(269.9 221.8) scale(1 1)" font-size="7" text-anchor="end" font-weight="normal" font-family="Liberation Serif" fill="#1a1a1a" stroke="#222" stroke-width="0.1">2.00</text>
<path d="M271.9 192.3H274.4" stroke="#959595" stroke-width="1"/>
<text transform="translate(269.9 195.6) scale(1 1)" font-size="7" text-anchor="end" font-weight="normal" font-family="Liberation Serif" fill="#1a1a1a" stroke="#222" stroke-width="0.1">2.50</text>
<path d="M274.4 323.3V325.8" stroke="#959595" stroke-width="1"/>
<text transform="translate(274.4 334.3) scale(1 0.95)" font-size="7.2" text-anchor="middle" font-weight="normal" font-family="Liberation Serif" fill="#1a1a1a" stroke="#222" stroke-width="0.1">0</text>
<path d="M294.9 323.3V325.8" stroke="#959595" stroke-width="1"/>
<text transform="translate(294.9 334.3) scale(1 0.95)" font-size="7.2" text-anchor="middle" font-weight="normal" font-family="Liberation Serif" fill="#1a1a1a" stroke="#222" stroke-width="0.1">12</text>
<path d="M315.4 323.3V325.8" stroke="#959595" stroke-width="1"/>
<text transform="translate(315.4 334.3) scale(1 0.95)" font-size="7.2" text-anchor="middle" font-weight="normal" font-family="Liberation Serif" fill="#1a1a1a" stroke="#222" stroke-width="0.1">24</text>
<path d="M335.9 323.3V325.8" stroke="#959595" stroke-width="1"/>
<text transform="translate(335.9 334.3) scale(1 0.95)" font-size="7.2" text-anchor="middle" font-weight="normal" font-family="Liberation Serif" fill="#1a1a1a" stroke="#222" stroke-width="0.1">36</text>
<path d="M356.4 323.3V325.8" stroke="#959595" stroke-width="1"/>
<text transform="translate(356.4 334.3) scale(1 0.95)" font-size="7.2" text-anchor="middle" font-weight="normal" font-family="Liberation Serif" fill="#1a1a1a" stroke="#222" stroke-width="0.1">48</text>
<path d="M376.9 323.3V325.8" stroke="#959595" stroke-width="1"/>
<text transform="translate(376.9 334.3) scale(1 0.95)" font-size="7.2" text-anchor="middle" font-weight="normal" font-family="Liberation Serif" fill="#1a1a1a" stroke="#222" stroke-width="0.1">60</text>
<path d="M397.4 323.3V325.8" stroke="#959595" stroke-width="1"/>
<text transform="translate(397.4 334.3) scale(1 0.95)" font-size="7.2" text-anchor="middle" font-weight="normal" font-family="Liberation Serif" fill="#1a1a1a" stroke="#222" stroke-width="0.1">72</text>
<path d="M417.9 323.3V325.8" stroke="#959595" stroke-width="1"/>
<text transform="translate(417.9 334.3) scale(1 0.95)" font-size="7.2" text-anchor="middle" font-weight="normal" font-family="Liberation Serif" fill="#1a1a1a" stroke="#222" stroke-width="0.1">84</text>
<path d="M438.4 323.3V325.8" stroke="#959595" stroke-width="1"/>
<text transform="translate(438.4 334.3) scale(1 0.95)" font-size="7.2" text-anchor="middle" font-weight="normal" font-family="Liberation Serif" fill="#1a1a1a" stroke="#222" stroke-width="0.1">96</text>
<path d="M458.9 323.3V325.8" stroke="#959595" stroke-width="1"/>
<text transform="translate(458.9 334.3) scale(1 0.95)" font-size="7.2" text-anchor="middle" font-weight="normal" font-family="Liberation Serif" fill="#1a1a1a" stroke="#222" stroke-width="0.1">108</text>
<text x="367.3" y="345.3" font-size="9" text-anchor="middle" font-weight="normal" font-family="Liberation Serif" fill="#1a1a1a" stroke="#1a1a1a" stroke-width="0.2">Time (hour)</text>
<text x="251.8" y="258" font-size="9.2" text-anchor="middle" font-weight="normal" font-family="Liberation Serif" fill="#1a1a1a" transform="rotate(-90 251.8 258)" stroke="#1a1a1a" stroke-width="0.05">Total nitrogen (g/l)</text>
<path d="M274.4 266.6V275.6 M272.9 266.6H275.9 M272.9 275.6H275.9" stroke="#a6a6a6" stroke-width="0.9" fill="none"/>
<path d="M294.9 259.3V276.9 M293.4 259.3H296.4 M293.4 276.9H296.4" stroke="#a6a6a6" stroke-width="0.9" fill="none"/>
<path d="M315.4 293.6V309.6 M313.9 293.6H316.9 M313.9 309.6H316.9" stroke="#a6a6a6" stroke-width="0.9" fill="none"/>
<path d="M335.9 309.6V313.6 M334.4 309.6H337.4 M334.4 313.6H337.4" stroke="#a6a6a6" stroke-width="0.9" fill="none"/>
<path d="M356.4 309.9V312.9 M354.9 309.9H357.9 M354.9 312.9H357.9" stroke="#a6a6a6" stroke-width="0.9" fill="none"/>
<path d="M376.9 308.5V311.5 M375.4 308.5H378.4 M375.4 311.5H378.4" stroke="#a6a6a6" stroke-width="0.9" fill="none"/>
<path d="M397.4 305V311 M395.9 305H398.9 M395.9 311H398.9" stroke="#a6a6a6" stroke-width="0.9" fill="none"/>
<path d="M417.9 309.8V315.8 M416.4 309.8H419.4 M416.4 315.8H419.4" stroke="#a6a6a6" stroke-width="0.9" fill="none"/>
<path d="M438.4 309.1V312.1 M436.9 309.1H439.9 M436.9 312.1H439.9" stroke="#a6a6a6" stroke-width="0.9" fill="none"/>
<path d="M274.4 217.3V229.3 M272.9 217.3H275.9 M272.9 229.3H275.9" stroke="#a6a6a6" stroke-width="0.9" fill="none"/>
<path d="M294.9 215.3V230.3 M293.4 215.3H296.4 M293.4 230.3H296.4" stroke="#a6a6a6" stroke-width="0.9" fill="none"/>
<path d="M315.4 216.2V233.8 M313.9 216.2H316.9 M313.9 233.8H316.9" stroke="#a6a6a6" stroke-width="0.9" fill="none"/>
<path d="M335.9 259.9V273.9 M334.4 259.9H337.4 M334.4 273.9H337.4" stroke="#a6a6a6" stroke-width="0.9" fill="none"/>
<path d="M356.4 267.8V281.8 M354.9 267.8H357.9 M354.9 281.8H357.9" stroke="#a6a6a6" stroke-width="0.9" fill="none"/>
<path d="M376.9 265.8V283.8 M375.4 265.8H378.4 M375.4 283.8H378.4" stroke="#a6a6a6" stroke-width="0.9" fill="none"/>
<path d="M397.4 286.3V294.3 M395.9 286.3H398.9 M395.9 294.3H398.9" stroke="#a6a6a6" stroke-width="0.9" fill="none"/>
<path d="M417.9 287.3V297.3 M416.4 287.3H419.4 M416.4 297.3H419.4" stroke="#a6a6a6" stroke-width="0.9" fill="none"/>
<path d="M438.4 282.7V286.7 M436.9 282.7H439.9 M436.9 286.7H439.9" stroke="#a6a6a6" stroke-width="0.9" fill="none"/>
<path d="M274.4 230V250 M272.9 230H275.9 M272.9 250H275.9" stroke="#a6a6a6" stroke-width="0.9" fill="none"/>
<path d="M294.9 227.3V256.3 M293.4 227.3H296.4 M293.4 256.3H296.4" stroke="#a6a6a6" stroke-width="0.9" fill="none"/>
<path d="M315.4 237.3V253.6 M313.9 237.3H316.9 M313.9 253.6H316.9" stroke="#a6a6a6" stroke-width="0.9" fill="none"/>
<path d="M335.9 244.4V250.4 M334.4 244.4H337.4 M334.4 250.4H337.4" stroke="#a6a6a6" stroke-width="0.9" fill="none"/>
<path d="M356.4 263.2V275.2 M354.9 263.2H357.9 M354.9 275.2H357.9" stroke="#a6a6a6" stroke-width="0.9" fill="none"/>
<path d="M397.4 278V284 M395.9 278H398.9 M395.9 284H398.9" stroke="#a6a6a6" stroke-width="0.9" fill="none"/>
<path d="M417.9 279.1V293.1 M416.4 279.1H419.4 M416.4 293.1H419.4" stroke="#a6a6a6" stroke-width="0.9" fill="none"/>
<path d="M438.4 288.3V292.3 M436.9 288.3H439.9 M436.9 292.3H439.9" stroke="#a6a6a6" stroke-width="0.9" fill="none"/>
<path d="M274.4 222.6V230.6 M272.9 222.6H275.9 M272.9 230.6H275.9" stroke="#a6a6a6" stroke-width="0.9" fill="none"/>
<path d="M294.9 222.6V231.1 M293.4 222.6H296.4 M293.4 231.1H296.4" stroke="#a6a6a6" stroke-width="0.9" fill="none"/>
<path d="M315.4 222.4V233.4 M313.9 222.4H316.9 M313.9 233.4H316.9" stroke="#a6a6a6" stroke-width="0.9" fill="none"/>
<path d="M335.9 252.4V267.9 M334.4 252.4H337.4 M334.4 267.9H337.4" stroke="#a6a6a6" stroke-width="0.9" fill="none"/>
<path d="M356.4 270.8V278.8 M354.9 270.8H357.9 M354.9 278.8H357.9" stroke="#a6a6a6" stroke-width="0.9" fill="none"/>
<path d="M376.9 282V294 M375.4 282H378.4 M375.4 294H378.4" stroke="#a6a6a6" stroke-width="0.9" fill="none"/>
<path d="M397.4 278.9V302.9 M395.9 278.9H398.9 M395.9 302.9H398.9" stroke="#a6a6a6" stroke-width="0.9" fill="none"/>
<path d="M417.9 298.3V302.3 M416.4 298.3H419.4 M416.4 302.3H419.4" stroke="#a6a6a6" stroke-width="0.9" fill="none"/>
<path d="M438.4 298.7V302.7 M436.9 298.7H439.9 M436.9 302.7H439.9" stroke="#a6a6a6" stroke-width="0.9" fill="none"/>
<path d="M274.4 271.1 L294.9 268.9 L315.4 301.6 L335.9 311.6 L356.4 311.4 L376.9 310 L397.4 308 L417.9 312.8 L438.4 310.6" stroke="#4a7ebb" stroke-width="1.3" fill="none" stroke-linejoin="round"/>
<path d="M274.4 268.3L277.2 271.1L274.4 273.9L271.6 271.1Z" fill="#4f81bd"/>
<path d="M294.9 266.1L297.7 268.9L294.9 271.7L292.1 268.9Z" fill="#4f81bd"/>
<path d="M315.4 298.8L318.2 301.6L315.4 304.4L312.6 301.6Z" fill="#4f81bd"/>
<path d="M335.9 308.8L338.7 311.6L335.9 314.4L333.1 311.6Z" fill="#4f81bd"/>
<path d="M356.4 308.6L359.2 311.4L356.4 314.2L353.6 311.4Z" fill="#4f81bd"/>
<path d="M376.9 307.2L379.7 310L376.9 312.8L374.1 310Z" fill="#4f81bd"/>
<path d="M397.4 305.2L400.2 308L397.4 310.8L394.6 308Z" fill="#4f81bd"/>
<path d="M417.9 310L420.7 312.8L417.9 315.6L415.1 312.8Z" fill="#4f81bd"/>
<path d="M438.4 307.8L441.2 310.6L438.4 313.4L435.6 310.6Z" fill="#4f81bd"/>
<path d="M274.4 223.3 L294.9 225.3 L315.4 228.6 L335.9 266.9 L356.4 274.8 L376.9 274.8 L397.4 290.3 L417.9 292.3 L438.4 284.7" stroke="#be4b48" stroke-width="1.3" fill="none" stroke-linejoin="round"/>
<rect x="271.9" y="220.8" width="5" height="5" fill="#c0504d"/>
<rect x="292.4" y="222.8" width="5" height="5" fill="#c0504d"/>
<rect x="312.9" y="226.1" width="5" height="5" fill="#c0504d"/>
<rect x="333.4" y="264.4" width="5" height="5" fill="#c0504d"/>
<rect x="353.9" y="272.3" width="5" height="5" fill="#c0504d"/>
<rect x="374.4" y="272.3" width="5" height="5" fill="#c0504d"/>
<rect x="394.9" y="287.8" width="5" height="5" fill="#c0504d"/>
<rect x="415.4" y="289.8" width="5" height="5" fill="#c0504d"/>
<rect x="435.9" y="282.2" width="5" height="5" fill="#c0504d"/>
<path d="M274.4 240 L294.9 241.3 L315.4 245.3 L335.9 247.4 L356.4 269.2 L376.9 284.4 L397.4 281 L417.9 286.1 L438.4 290.3" stroke="#98b954" stroke-width="1.3" fill="none" stroke-linejoin="round"/>
<circle cx="274.4" cy="240" r="2.62" fill="#9bbb59"/>
<circle cx="294.9" cy="241.3" r="2.62" fill="#9bbb59"/>
<circle cx="315.4" cy="245.3" r="2.62" fill="#9bbb59"/>
<circle cx="335.9" cy="247.4" r="2.62" fill="#9bbb59"/>
<circle cx="356.4" cy="269.2" r="2.62" fill="#9bbb59"/>
<circle cx="376.9" cy="284.4" r="2.62" fill="#9bbb59"/>
<circle cx="397.4" cy="281" r="2.62" fill="#9bbb59"/>
<circle cx="417.9" cy="286.1" r="2.62" fill="#9bbb59"/>
<circle cx="438.4" cy="290.3" r="2.62" fill="#9bbb59"/>
<path d="M274.4 226.6 L294.9 226.6 L315.4 227.4 L335.9 259.9 L356.4 274.8 L376.9 288 L397.4 290.9 L417.9 300.3 L438.4 300.7" stroke="#7d60a0" stroke-width="1.3" fill="none" stroke-linejoin="round"/>
<path d="M274.4 223.6L277.4 229L271.4 229Z" fill="#8064a2"/>
<path d="M294.9 223.6L297.9 229L291.9 229Z" fill="#8064a2"/>
<path d="M315.4 224.4L318.4 229.8L312.4 229.8Z" fill="#8064a2"/>
<path d="M335.9 256.9L338.9 262.3L332.9 262.3Z" fill="#8064a2"/>
<path d="M356.4 271.8L359.4 277.2L353.4 277.2Z" fill="#8064a2"/>
<path d="M376.9 285L379.9 290.4L373.9 290.4Z" fill="#8064a2"/>
<path d="M397.4 287.9L400.4 293.3L394.4 293.3Z" fill="#8064a2"/>
<path d="M417.9 297.3L420.9 302.7L414.9 302.7Z" fill="#8064a2"/>
<path d="M438.4 297.7L441.4 303.1L435.4 303.1Z" fill="#8064a2"/>
<path d="M415.2 204.5H431.5" stroke="#4a7ebb" stroke-width="1.45"/>
<path d="M423.3 202.12L425.68 204.5L423.3 206.88L420.92 204.5Z" fill="#4f81bd"/>
<text x="432.5" y="207.1" font-size="7.4" text-anchor="start" font-weight="normal" font-family="Liberation Serif" fill="#1a1a1a" stroke="#1a1a1a" stroke-width="0.2">B</text>
<path d="M415.2 217.1H431.5" stroke="#be4b48" stroke-width="1.45"/>
<rect x="421.18" y="214.97" width="4.25" height="4.25" fill="#c0504d"/>
<text x="432.5" y="219.7" font-size="7.4" text-anchor="start" font-weight="normal" font-family="Liberation Serif" fill="#1a1a1a" stroke="#1a1a1a" stroke-width="0.2">K</text>
<path d="M415.2 229.8H431.5" stroke="#98b954" stroke-width="1.45"/>
<circle cx="423.3" cy="229.8" r="2.23" fill="#9bbb59"/>
<text x="432.5" y="232.4" font-size="7.4" text-anchor="start" font-weight="normal" font-family="Liberation Serif" fill="#1a1a1a" stroke="#1a1a1a" stroke-width="0.2">Am</text>
<path d="M415.2 242.4H431.5" stroke="#7d60a0" stroke-width="1.45"/>
<path d="M423.3 239.85L425.85 244.44L420.75 244.44Z" fill="#8064a2"/>
<text x="432.5" y="245" font-size="7.4" text-anchor="start" font-weight="normal" font-family="Liberation Serif" fill="#1a1a1a" stroke="#1a1a1a" stroke-width="0.2">Am+K</text>
</svg>
</body></html>
